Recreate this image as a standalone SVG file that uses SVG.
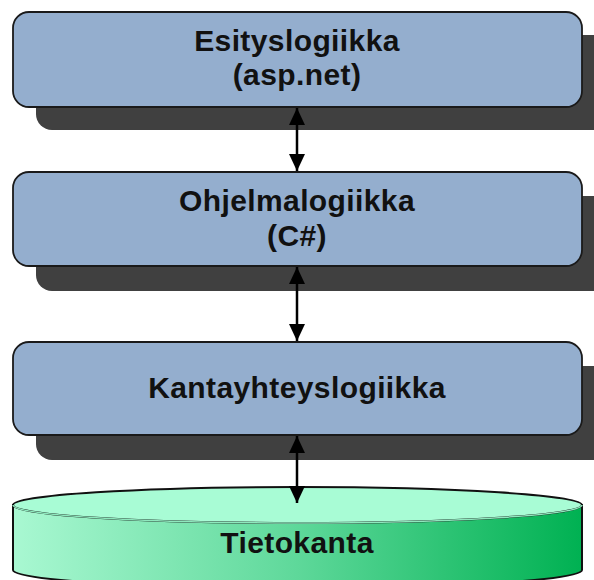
<svg xmlns="http://www.w3.org/2000/svg" width="594" height="580" viewBox="0 0 594 580">
<defs>
<style>
.shadow{fill:#404040}
.box{fill:#94AECE;stroke:#1a1a1a;stroke-width:1.8}
.lbl{font-family:"Liberation Sans",Arial,sans-serif;font-weight:bold;font-size:30px;letter-spacing:0.4px;fill:#111;text-anchor:middle}
.conn{stroke:#000;stroke-width:2.5;fill:none}
</style>
<marker id="ah" viewBox="0 0 10 10" refX="10" refY="5" markerWidth="17" markerHeight="16" markerUnits="userSpaceOnUse" orient="auto-start-reverse" preserveAspectRatio="none">
<path d="M0,0 L10,5 L0,10 z" fill="#000"/>
</marker>
<linearGradient id="cylBody" x1="0" y1="0" x2="1" y2="0">
<stop offset="0" stop-color="#A9F8D2"/>
<stop offset="0.5" stop-color="#5ED89A"/>
<stop offset="1" stop-color="#00B152"/>
</linearGradient>
</defs>
<g id="node-esitys">
<rect class="shadow" x="36" y="35" width="580" height="95" rx="16"/>
<rect class="box" x="13" y="12" width="569" height="95" rx="16"/>
<text class="lbl" x="297" y="51">Esityslogiikka</text>
<text class="lbl" x="297" y="85">(asp.net)</text>
</g>
<g id="node-ohjelma">
<rect class="shadow" x="36" y="196" width="580" height="95" rx="16"/>
<rect class="box" x="13" y="172" width="569" height="94" rx="16"/>
<text class="lbl" x="297" y="211">Ohjelmalogiikka</text>
<text class="lbl" x="297" y="246">(C#)</text>
</g>
<g id="node-kanta">
<rect class="shadow" x="36" y="366" width="580" height="94" rx="16"/>
<rect class="box" x="13" y="342" width="569" height="93" rx="16"/>
<text class="lbl" x="297" y="398">Kantayhteyslogiikka</text>
</g>
<g id="node-tietokanta">
<path d="M13,505 L13,570 A284.5,18 0 0 0 582,570 L582,505 Z" fill="url(#cylBody)" stroke="#111" stroke-width="2"/>
<ellipse cx="297.5" cy="505" rx="284.5" ry="18" fill="#A8FCD5" stroke="#111" stroke-width="2"/>
<path d="M13,505 A284.5,18 0 0 0 582,505" fill="none" stroke="#8FE8BE" stroke-width="1.5"/>
<text class="lbl" x="297" y="553">Tietokanta</text>
</g>
<g id="connectors">
<line class="conn" x1="297" y1="108" x2="297" y2="171" marker-start="url(#ah)" marker-end="url(#ah)"/>
<line class="conn" x1="297" y1="267" x2="297" y2="341" marker-start="url(#ah)" marker-end="url(#ah)"/>
<line class="conn" x1="297" y1="436" x2="297" y2="503" marker-start="url(#ah)" marker-end="url(#ah)"/>
</g>
</svg>
